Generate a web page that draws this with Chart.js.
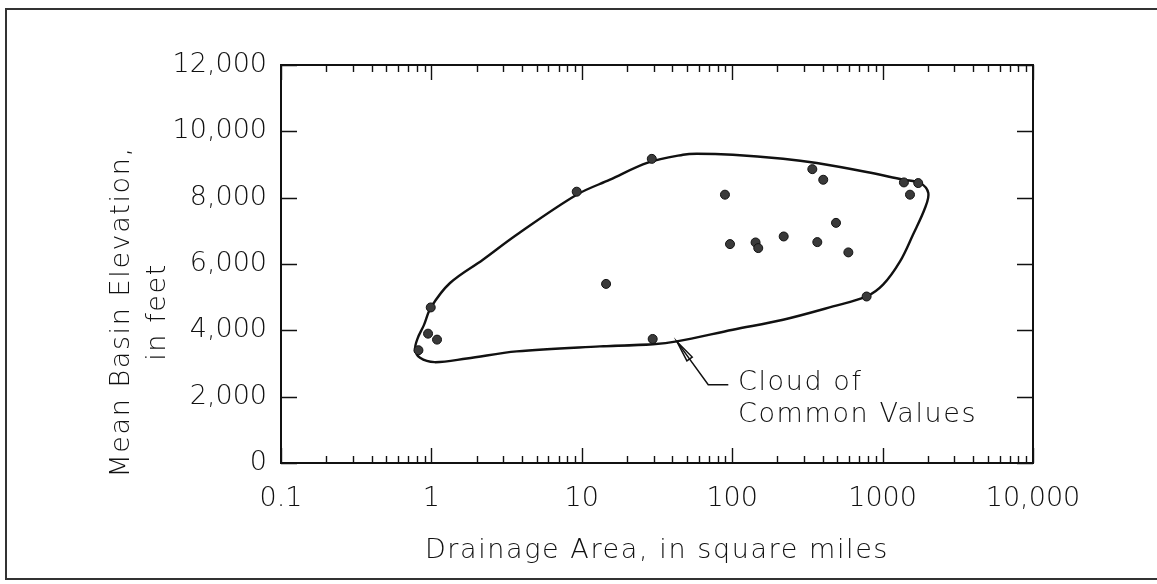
<!DOCTYPE html>
<html>
<head>
<meta charset="utf-8">
<script src="https://cdn.jsdelivr.net/npm/chart.js@4.4.1/dist/chart.umd.min.js"></script>
<style>
  html, body { margin: 0; padding: 0; background: #fff; }
  canvas { display: block; }
</style>
</head>
<body>
<canvas id="basinChart" width="1157" height="584"></canvas>
<script>
// gauged basins: drainage area (sq mi) vs mean basin elevation (ft)
const areaMi = [0.82, 0.95, 1.09, 0.99, 9.25, 14.5, 29.2, 29.6, 89.5, 96.7, 143,
                149, 220, 341, 368, 403, 490, 592, 783, 1386, 1521, 1725];
const elevFt = [3400, 3900, 3720, 4690, 8180, 5400, 9170, 3740, 8090, 6600, 6650,
                6480, 6830, 8860, 6660, 8540, 7240, 6350, 5020, 8460, 8090, 8440];

// outline of the "cloud of common values" (closed loop, first two repeated at the end)
const cloudX = [29.7, 13.2, 3.69, 1.72, 1.05, 0.84, 0.78, 0.81, 0.89, 0.993, 1.33,
                2.2, 3.69, 9.25, 15.4, 27.5, 47.1, 58.1, 101, 218, 365, 783, 1368,
                1774, 2014, 1914, 1592, 1306, 1007, 783, 468, 218, 101, 42.8, 29.7, 13.2];
const cloudY = [3582, 3515, 3365, 3150, 3040, 3170, 3430, 3760, 4150, 4691, 5427,
                6130, 6883, 8089, 8542, 9054, 9295, 9325, 9295, 9175, 9045, 8774, 8542,
                8442, 8141, 7688, 6883, 6078, 5376, 5023, 4721, 4320, 4019, 3666, 3582, 3515];

const xMajor = [0.1, 1, 10, 100, 1000, 10000];
const xTickLabels = ['0.1', '1', '10', '100', '1000', '10,000'];
const yTicks = [0, 2000, 4000, 6000, 8000, 10000, 12000];
const yTickLabels = ['0', '2,000', '4,000', '6,000', '8,000', '10,000', '12,000'];

const xTitle = 'Drainage Area, in square miles';
const yTitle = ['Mean Basin Elevation,', 'in feet'];
const noteLines = ['Cloud of', 'Common Values'];
// arrow: tip on the outline, elbow, end of the leader; label anchor
const noteArrow = { tip: [42.8, 3666], elbow: [69.3, 2361], end: [94.2, 2361], text: [109.3, 2421] };

const FONT = '"DejaVu Sans", sans-serif';
const INK = '#111';

function isMajor(v) {
  const l = Math.log10(v);
  return Math.abs(l - Math.round(l)) < 1e-9;
}

const frameTicks = {
  id: 'frameTicks',
  afterDatasetsDraw(chart) {
    const { ctx, chartArea: a, scales: { x, y } } = chart;
    ctx.save();
    ctx.strokeStyle = INK;
    ctx.lineWidth = 2;
    ctx.strokeRect(a.left, a.top, a.right - a.left, a.bottom - a.top);
    ctx.lineWidth = 1.4;
    ctx.beginPath();
    x.ticks.forEach(t => {
      const px = Math.round(x.getPixelForValue(t.value)) + 0.5;
      const len = isMajor(t.value) ? 15 : 7;
      ctx.moveTo(px, a.bottom); ctx.lineTo(px, a.bottom - len);
      ctx.moveTo(px, a.top); ctx.lineTo(px, a.top + len);
    });
    y.ticks.forEach(t => {
      const py = Math.round(y.getPixelForValue(t.value)) + 0.5;
      ctx.moveTo(a.left, py); ctx.lineTo(a.left + 16, py);
      ctx.moveTo(a.right, py); ctx.lineTo(a.right - 16, py);
    });
    ctx.stroke();
    ctx.restore();
  }
};

const notes = {
  id: 'notes',
  afterDraw(chart) {
    const { ctx, chartArea: a, scales: { x, y } } = chart;
    const P = p => [x.getPixelForValue(p[0]), y.getPixelForValue(p[1])];
    ctx.save();
    ctx.fillStyle = INK;
    ctx.strokeStyle = INK;
    ctx.font = '200 27px ' + FONT;
    ctx.letterSpacing = '1.6px';
    ctx.textAlign = 'center';
    ctx.textBaseline = 'middle';

    // axis titles
    ctx.fillText(xTitle, (a.left + a.right) / 2, 551);
    ctx.save();
    ctx.translate(122, 312);
    ctx.rotate(-Math.PI / 2);
    ctx.fillText(yTitle[0], 0, 0);
    ctx.fillText(yTitle[1], 0, 36);
    ctx.restore();

    // leader arrow
    const tip = P(noteArrow.tip), elbow = P(noteArrow.elbow), end = P(noteArrow.end);
    ctx.lineWidth = 1.5;
    ctx.beginPath();
    ctx.moveTo(tip[0], tip[1]);
    ctx.lineTo(elbow[0], elbow[1]);
    ctx.lineTo(end[0], end[1]);
    ctx.stroke();
    const ang = Math.atan2(elbow[1] - tip[1], elbow[0] - tip[0]);
    const hl = 22, hw = 0.15;
    ctx.beginPath();
    ctx.moveTo(tip[0], tip[1]);
    ctx.lineTo(tip[0] + hl * Math.cos(ang - hw), tip[1] + hl * Math.sin(ang - hw));
    ctx.lineTo(tip[0] + hl * Math.cos(ang + hw), tip[1] + hl * Math.sin(ang + hw));
    ctx.closePath();
    ctx.stroke();

    const t = P(noteArrow.text);
    ctx.textAlign = 'left';
    ctx.fillText(noteLines[0], t[0], t[1]);
    ctx.fillText(noteLines[1], t[0], t[1] + 32);

    // outer figure border
    ctx.lineWidth = 2;
    ctx.strokeStyle = '#333';
    ctx.strokeRect(6, 9, 1160, 570);
    ctx.restore();
  }
};

new Chart(document.getElementById('basinChart'), {
  type: 'scatter',
  data: {
    datasets: [
      {
        label: 'Basins',
        data: areaMi.map((v, i) => ({ x: v, y: elevFt[i] })),
        pointRadius: 4.5,
        backgroundColor: '#3a3a3a',
        borderColor: '#111',
        borderWidth: 1,
        showLine: false
      },
      {
        label: 'Cloud of common values',
        data: cloudX.map((v, i) => ({ x: v, y: cloudY[i] })),
        showLine: true,
        tension: 0.35,
        borderColor: INK,
        borderWidth: 2.4,
        pointRadius: 0,
        fill: false
      }
    ]
  },
  options: {
    responsive: false,
    animation: false,
    layout: { padding: { top: 65, right: 124, left: 0, bottom: 0 } },
    plugins: {
      legend: { display: false },
      tooltip: { enabled: false }
    },
    scales: {
      x: {
        type: 'logarithmic',
        min: 0.1,
        max: 10000,
        grid: { display: false, drawTicks: false },
        border: { display: false },
        afterBuildTicks(scale) {
          const ticks = [];
          xMajor.forEach((d, i) => {
            ticks.push({ value: d });
            if (i < xMajor.length - 1) {
              for (let m = 2; m <= 9; m++) ticks.push({ value: d * m });
            }
          });
          scale.ticks = ticks;
        },
        afterFit(scale) { scale.height = 121; },
        ticks: {
          autoSkip: false,
          maxRotation: 0,
          padding: 20,
          color: INK,
          font: { family: FONT, size: 27, weight: '200' },
          callback(value) {
            const i = xMajor.findIndex(m => Math.abs(m - value) < m * 1e-6);
            return i >= 0 ? xTickLabels[i] : '';
          }
        }
      },
      y: {
        min: 0,
        max: 12000,
        grid: { display: false, drawTicks: false },
        border: { display: false },
        afterBuildTicks(scale) { scale.ticks = yTicks.map(v => ({ value: v })); },
        afterFit(scale) { scale.width = 281; },
        ticks: {
          padding: 14,
          color: INK,
          font: { family: FONT, size: 27, weight: '200' },
          callback(value) {
            const i = yTicks.indexOf(value);
            return i >= 0 ? yTickLabels[i] : '';
          }
        }
      }
    }
  },
  plugins: [frameTicks, notes]
});
</script>
</body>
</html>
